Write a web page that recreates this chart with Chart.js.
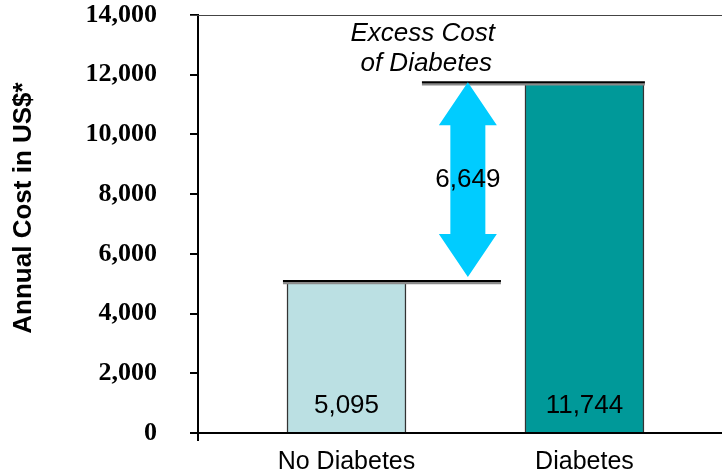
<!DOCTYPE html>
<html><head><meta charset="utf-8">
<script src="https://cdn.jsdelivr.net/npm/chart.js@4.4.1/dist/chart.umd.min.js"></script>
<style>html,body{margin:0;padding:0;background:#fff;} #wrap{width:722px;height:471px;position:relative;}</style>
</head><body><div id="wrap"><canvas id="c"></canvas></div>
<script>
const categories = ['No Diabetes', 'Diabetes'];
const annualCost = [5095, 11744];
const excessCost = [6649];
const annotationLines = ['Excess Cost', 'of Diabetes'];
const yAxisTitle = 'Annual Cost in US$*';
const barColors = ['#BBE0E3', '#009999'];

const fmt = v => Number(v).toLocaleString('en-US');

const overlay = {
  id: 'overlay',
  afterLayout(chart) {
    // the original title sits a little above the axis centre
    const s = chart.scales.y;
    if (s && !s._titleShifted) {
      const orig = s.drawTitle.bind(s);
      s.drawTitle = function () {
        const c = this.ctx; c.save(); c.translate(0, -16); orig(); c.restore();
      };
      s._titleShifted = true;
    }
  },
  afterDatasetsDraw(chart) {
    const ctx = chart.ctx, x = chart.scales.x, y = chart.scales.y;
    const ca = chart.chartArea;
    const yLow = y.getPixelForValue(annualCost[0]);
    const yHigh = y.getPixelForValue(annualCost[1]);
    const ax = x.getPixelForValue(0.51);

    // thin top frame line at axis max
    ctx.save();
    ctx.strokeStyle = '#444'; ctx.lineWidth = 1;
    const yt = Math.round(y.getPixelForValue(y.max)) + 0.5;
    ctx.beginPath(); ctx.moveTo(ca.left - 8, yt); ctx.lineTo(ca.right, yt); ctx.stroke();
    ctx.restore();

    function hline(v1, v2, yy) {
      const x1 = x.getPixelForValue(v1), x2 = x.getPixelForValue(v2);
      ctx.save();
      ctx.strokeStyle = '#8a8a8a'; ctx.lineWidth = 2.5;
      ctx.beginPath(); ctx.moveTo(x1, yy + 2); ctx.lineTo(x2, yy + 2); ctx.stroke();
      ctx.strokeStyle = '#000'; ctx.lineWidth = 2;
      ctx.beginPath(); ctx.moveTo(x1, yy); ctx.lineTo(x2, yy); ctx.stroke();
      ctx.restore();
    }
    hline(-0.267, 0.649, yLow);
    hline(0.317, 1.254, yHigh);

    // double-headed arrow spanning the excess cost
    const top = yHigh, bot = yLow - 4;
    const headH = 43, headW = 29, shaftW = 17.5;
    ctx.save();
    ctx.fillStyle = '#00CCFF';
    ctx.beginPath();
    ctx.moveTo(ax, top);
    ctx.lineTo(ax + headW, top + headH);
    ctx.lineTo(ax + shaftW, top + headH);
    ctx.lineTo(ax + shaftW, bot - headH);
    ctx.lineTo(ax + headW, bot - headH);
    ctx.lineTo(ax, bot);
    ctx.lineTo(ax - headW, bot - headH);
    ctx.lineTo(ax - shaftW, bot - headH);
    ctx.lineTo(ax - shaftW, top + headH);
    ctx.lineTo(ax - headW, top + headH);
    ctx.closePath();
    ctx.fill();

    ctx.fillStyle = '#000';
    ctx.textAlign = 'center';
    ctx.textBaseline = 'middle';
    ctx.font = '26px "Liberation Sans", Arial, sans-serif';
    ctx.fillText(fmt(excessCost[0]), ax, (top + bot) / 2);

    // bar value labels
    const meta = chart.getDatasetMeta(0);
    const y0 = y.getPixelForValue(0);
    meta.data.forEach((bar, i) => {
      ctx.fillText(fmt(annualCost[i]), bar.x, y0 - 27);
    });

    // annotation
    ctx.font = 'italic 26px "Liberation Sans", Arial, sans-serif';
    ctx.fillText(annotationLines[0], x.getPixelForValue(0.32), yHigh - 49);
    ctx.fillText(annotationLines[1], x.getPixelForValue(0.335), yHigh - 19);

    // small extension of y axis below x axis
    ctx.strokeStyle = '#000'; ctx.lineWidth = 2;
    ctx.beginPath();
    ctx.moveTo(ca.left, y0); ctx.lineTo(ca.left, y0 + 8);
    ctx.stroke();
    ctx.restore();
  }
};

new Chart(document.getElementById('c'), {
  type: 'bar',
  data: {
    datasets: [{
      data: categories.map((c, i) => ({ x: i, y: annualCost[i] })),
      backgroundColor: barColors,
      borderColor: '#333333',
      borderWidth: 1.5,
      barThickness: 119
    }]
  },
  options: {
    responsive: true,
    maintainAspectRatio: false,
    animation: false,
    devicePixelRatio: 1,
    layout: { padding: { top: 15, right: 0, bottom: 0, left: 0 } },
    plugins: { legend: { display: false }, tooltip: { enabled: false } },
    scales: {
      x: {
        type: 'linear',
        offset: false,
        min: -0.624,
        max: 1.578,
        afterBuildTicks(scale) { scale.ticks = categories.map((c, i) => ({ value: i })); },
        afterFit(scale) { scale.height = 38; scale.paddingLeft = 0; scale.paddingRight = 0; },
        grid: { display: false, drawTicks: false, offset: false },
        border: { display: true, color: '#000', width: 2 },
        ticks: {
          padding: 14,
          maxRotation: 0,
          autoSkip: false,
          color: '#000',
          font: { family: '"Liberation Sans", Arial, sans-serif', size: 25 },
          callback: (v) => categories[v] ?? ''
        }
      },
      y: {
        min: 0,
        max: 14000,
        afterFit(scale) { scale.width = 198; scale.paddingTop = 0; scale.paddingBottom = 0; },
        grid: { drawOnChartArea: false, drawTicks: true, tickLength: 8, color: '#000', lineWidth: 2 },
        border: { display: true, color: '#000', width: 2 },
        ticks: {
          stepSize: 2000,
          padding: 33,
          color: '#000',
          font: { family: '"Liberation Serif", "Times New Roman", serif', size: 26, weight: 'bold' },
          callback: (v) => fmt(v)
        },
        title: {
          display: true,
          text: yAxisTitle,
          color: '#000',
          padding: { top: 8, bottom: 0 },
          font: { family: '"Liberation Sans", Arial, sans-serif', size: 26, weight: 'bold' }
        }
      }
    }
  },
  plugins: [overlay]
});
</script>
</body></html>
